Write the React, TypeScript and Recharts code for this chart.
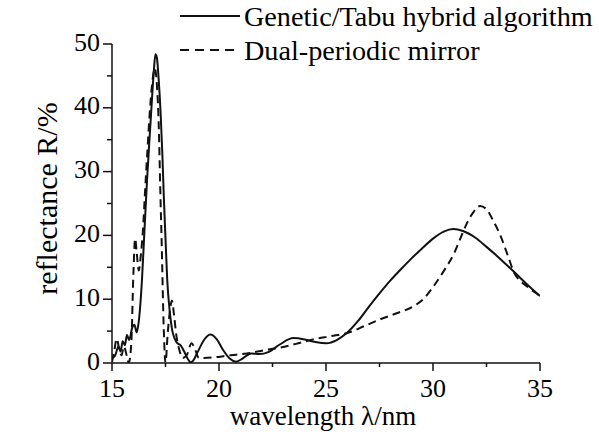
import React from 'react';
import { LineChart, Line, XAxis, YAxis, Legend } from 'recharts';

const solidX = [15.0, 15.15, 15.3, 15.4, 15.5, 15.6, 15.7, 15.8, 15.95, 16.05, 16.15, 16.25, 16.4, 16.52, 16.64, 16.76, 16.88, 16.96, 17.03, 17.1, 17.18, 17.27, 17.35, 17.42, 17.5, 17.58, 17.7, 17.81, 17.93, 18.05, 18.2, 18.4, 18.55, 18.67, 18.8, 19.0, 19.3, 19.6, 19.9, 20.2, 20.5, 20.8, 21.1, 21.5, 21.9, 22.3, 22.84, 23.47, 24.0, 24.5, 25.03, 25.5, 25.97, 26.5, 27.0, 27.5, 28.0, 28.5, 29.0, 29.5, 30.0, 30.5, 30.95, 31.4, 32.0, 32.5, 33.0, 33.5, 34.0, 34.5, 35.0];
const solidY = [0.8, 1.2, 2.6, 1.8, 3.4, 2.8, 4.4, 3.6, 5.6, 6.0, 4.8, 6.5, 13, 21, 28.8, 35.5, 42, 46, 48.4, 47.8, 44.5, 39.3, 33, 26.2, 19.5, 13.1, 8, 5.2, 3.8, 3.1, 2.8, 1.6, 0.6, 0.1, 0.4, 1.7, 3.6, 4.45, 3.7, 2.0, 0.7, 0.2, 0.7, 1.5, 1.4, 1.7, 2.9, 3.9, 3.7, 3.3, 3.1, 3.6, 4.7, 6.6, 8.8, 10.9, 12.9, 14.7, 16.4, 18.0, 19.5, 20.6, 21.0, 20.7, 19.6, 18.2, 16.75, 15.2, 13.6, 12.0, 10.5];

const dashX = [15.0, 15.1, 15.22, 15.35, 15.45, 15.55, 15.7, 15.78, 15.9, 16.0, 16.08, 16.15, 16.25, 16.35, 16.45, 16.53, 16.65, 16.78, 16.9, 17.0, 17.1, 17.19, 17.25, 17.32, 17.42, 17.5, 17.6, 17.7, 17.8, 17.9, 18.0, 18.15, 18.3, 18.5, 18.72, 18.85, 19.06, 19.3, 19.8, 20.3, 20.8, 21.3, 21.8, 22.3, 22.84, 23.6, 24.4, 25.2, 26.0, 26.8, 27.5, 28.3, 29.1, 29.6, 30.0, 30.5, 31.0, 31.3, 31.6, 31.9, 32.2, 32.5, 32.8, 33.16, 33.5, 33.8, 34.1, 34.4, 34.7, 35.0];
const dashY = [0.2, 1.8, 3.8, 2.0, 1.2, 2.6, 1.0, 0.0, 3.0, 14, 19.5, 17.5, 14.5, 17, 21, 26, 33, 40, 44.5, 46.2, 43.5, 36.6, 28, 19, 5.2, 0, 4.5, 8.0, 9.8, 7.5, 4.5, 2.0, 0.8, 1.3, 3.1, 2.4, 0.8, 0.8, 0.9, 1.1, 1.3, 1.5, 1.8, 2.1, 2.4, 3.0, 3.7, 4.2, 4.7, 5.8, 6.8, 7.8, 8.9, 10.2, 11.9, 14.4, 17.3, 19.7, 22.0, 23.7, 24.6, 24.1, 22.4, 19.9, 16.8, 14.1, 12.8, 12.0, 11.2, 10.5];

const xTicks = [15, 17.5, 20, 22.5, 25, 27.5, 30, 32.5, 35];
const yTicks = [0, 5, 10, 15, 20, 25, 30, 35, 40, 45, 50];
const seriesNames = ['Genetic/Tabu hybrid algorithm', 'Dual-periodic mirror'];
const xTitle = 'wavelength λ/nm';
const yTitle = 'reflectance R/%';

const solidData = solidX.map((x, i) => ({ x, y: solidY[i] }));
const dashData = dashX.map((x, i) => ({ x, y: dashY[i] }));

const FONT = "'Liberation Serif', 'Times New Roman', serif";
const INK = '#111';

const XTick = (props: any) => {
  const { x, y, payload } = props;
  const major = payload.value % 5 === 0;
  return (
    <g>
      <line x1={x} x2={x} y1={y} y2={y + (major ? 8 : 4)} stroke={INK} strokeWidth={1.5} />
      {major && (
        <text x={x} y={y + 34} textAnchor="middle" fontFamily={FONT} fontSize={26} fill="#000">
          {payload.value}
        </text>
      )}
    </g>
  );
};

const YTick = (props: any) => {
  const { x, y, payload } = props;
  const major = payload.value % 10 === 0;
  return (
    <g>
      <line x1={x - (major ? 9 : 5)} x2={x} y1={y} y2={y} stroke={INK} strokeWidth={1.5} />
      {major && (
        <text x={x - 12} y={y + 6.5} textAnchor="end" fontFamily={FONT} fontSize={26} fill="#000">
          {payload.value}
        </text>
      )}
    </g>
  );
};

const YLabel = (props: any) => {
  const vb = props.viewBox || { x: 0, y: 44, width: 112, height: 319 };
  const cx = vb.x + 57;
  const cy = vb.y + vb.height / 2 - 5;
  return (
    <text transform={`translate(${cx}, ${cy}) rotate(-90)`} textAnchor="middle" fontFamily={FONT} fontSize={30} fill="#000">
      {yTitle}
    </text>
  );
};

const XLabel = (props: any) => {
  const vb = props.viewBox || { x: 112, y: 363, width: 428, height: 71 };
  return (
    <text x={vb.x + vb.width / 2 - 3} y={vb.y + 62} textAnchor="middle" fontFamily={FONT} fontSize={27} fill="#000">
      {xTitle}
    </text>
  );
};

const LegendBox = () => (
  <svg width={599} height={70} style={{ display: 'block' }}>
    <line x1={180} x2={240} y1={16} y2={16} stroke={INK} strokeWidth={2} />
    <text x={244} y={26} fontFamily={FONT} fontSize={28.2} fill="#000">{seriesNames[0]}</text>
    <line x1={180} x2={240} y1={50} y2={50} stroke={INK} strokeWidth={2} strokeDasharray="9 6" />
    <text x={244} y={60} fontFamily={FONT} fontSize={28.2} fill="#000">{seriesNames[1]}</text>
  </svg>
);

export default function App() {
  return (
    <div style={{ position: 'absolute', left: 0, top: 0, background: '#fff' }}>
      <LineChart width={599} height={434} margin={{ top: 44, right: 59, bottom: 0, left: 0 }}>
        <XAxis
          dataKey="x"
          type="number"
          domain={[15, 35]}
          ticks={xTicks}
          interval={0}
          allowDataOverflow
          tickSize={0}
          tickMargin={0}
          tick={XTick}
          tickLine={false}
          axisLine={{ stroke: INK, strokeWidth: 1.5 }}
          height={71}
          label={<XLabel />}
        />
        <YAxis
          type="number"
          domain={[0, 50]}
          ticks={yTicks}
          interval={0}
          allowDataOverflow
          tickSize={0}
          tickMargin={0}
          tick={YTick}
          tickLine={false}
          axisLine={{ stroke: INK, strokeWidth: 1.5 }}
          width={112}
          label={<YLabel />}
        />
        <Legend
          verticalAlign="middle"
          align="center"
          layout="horizontal"
          wrapperStyle={{ position: 'absolute', left: 0, top: 0, width: 599, height: 70 }}
          content={() => <LegendBox />}
        />
        <Line
          data={solidData}
          dataKey="y"
          name={seriesNames[0]}
          type="monotone"
          dot={false}
          stroke={INK}
          strokeWidth={2}
          isAnimationActive={false}
        />
        <Line
          data={dashData}
          dataKey="y"
          name={seriesNames[1]}
          type="monotone"
          dot={false}
          stroke={INK}
          strokeWidth={2}
          strokeDasharray="8 5"
          isAnimationActive={false}
        />
      </LineChart>
    </div>
  );
}
